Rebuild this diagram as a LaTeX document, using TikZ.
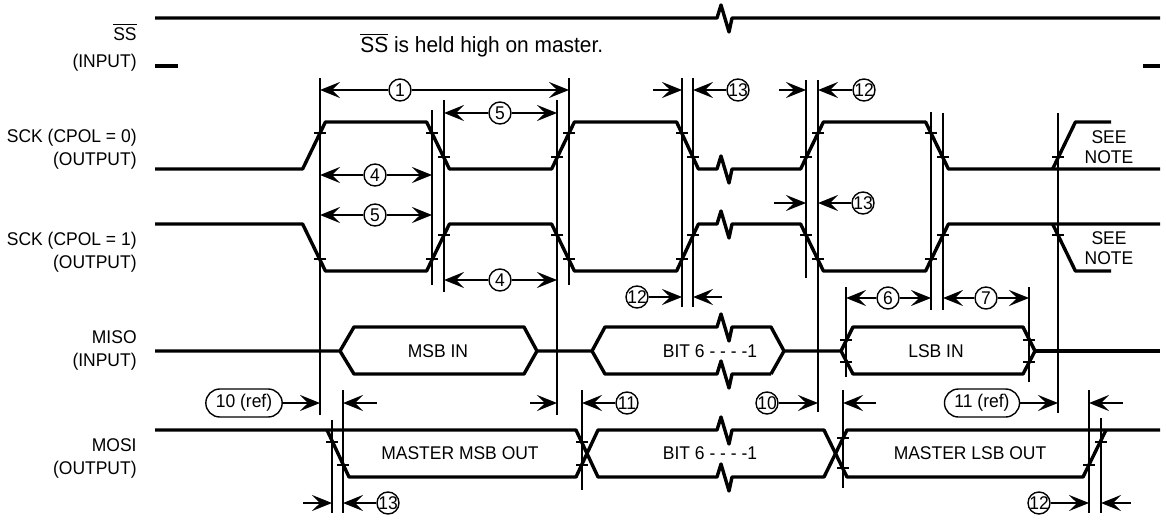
\documentclass[tikz,border=0pt]{standalone}
\usepackage{fontspec}
\setmainfont{Liberation Sans}[FakeStretch=0.95]
\usetikzlibrary{arrows.meta}

\newcommand\ovl[1]{$\overline{\mbox{#1}}$}
\def\brk{-- ++(4,-13) -- ++(8,27) -- ++(3,-14)}

\begin{document}
\begin{tikzpicture}[x=0.5pt,y=-0.5pt,
	font=\fontsize{9.2}{11.5}\selectfont,
	sig/.style={line width=1.7pt,line join=round},
	guide/.style={line width=0.7pt},
	dim/.style={guide,-{Stealth[length=10pt,width=8pt,inset=4pt]}},
	num/.style={draw,guide,rounded corners=5.5pt,minimum width=11pt,minimum height=11pt,inner sep=0.6pt,fill=white},
	refbox/.style={num,rounded corners=7pt,minimum height=14pt,inner xsep=5pt},
	lbl/.style={anchor=east,align=right,inner sep=0pt}]
	\useasboundingbox (0,0) rectangle (1166,519);

	\node[lbl] (ss) at (137,47) {\ovl{SS}\\[2pt](INPUT)};
	\node[lbl] (sck0) at (137,149) {SCK (CPOL = 0)\\(OUTPUT)};
	\node[lbl] (sck1) at (137,252) {SCK (CPOL = 1)\\(OUTPUT)};
	\node[lbl] (miso) at (137,350) {MISO\\(INPUT)};
	\node[lbl] (mosi) at (137,458) {MOSI\\(OUTPUT)};
	\node[anchor=west,inner sep=0pt,font=\fontsize{11}{13}\selectfont] (held) at (360,45) {\ovl{SS} is held high on master.};

	\draw[sig] (155,18) -- (717,18) \brk -- (1160,18);
	\draw[sig] (155,66) -- (178,66);
	\draw[sig] (1143,66) -- (1160,66);

	\draw[sig] (155,169) -- (302.6,169) -- (325.4,122) -- (426.6,122) -- (449.4,169) -- (551.6,169) -- (574.4,122) -- (676.6,122) -- (698.4,169) -- (717,169) \brk -- (800.6,169) -- (823.4,122) -- (925.6,122) -- (948.4,169) -- (1160,169);
	\draw[sig] (1052.6,169) -- (1075.4,122) -- (1111,122);
	\draw[sig] (155,224) -- (302.6,224) -- (325.4,271) -- (426.6,271) -- (449.4,224) -- (551.6,224) -- (574.4,271) -- (676.6,271) -- (698.4,224) -- (717,224) \brk -- (800.6,224) -- (823.4,271) -- (925.6,271) -- (948.4,224) -- (1160,224);
	\draw[sig] (1052.6,224) -- (1075.4,271) -- (1111,271);
	\node[align=center,font=\fontsize{9.2}{10}\selectfont] (note0) at (1109,147) {SEE\\NOTE};
	\node[align=center,font=\fontsize{9.2}{10}\selectfont] (note1) at (1109,248) {SEE\\NOTE};

	\draw[sig] (155,351) -- (340,351) -- (354,327) -- (524,327) -- (537,351) -- (524,374) -- (354,374) -- (340,351);
	\draw[sig] (537,351) -- (592,351) -- (605,327) -- (717,327) \brk -- (771,327) -- (784,351) -- (771,374);
	\draw[sig] (592,351) -- (605,374) -- (717,374) \brk -- (771,374);
	\draw[sig] (784,351) -- (841,351) -- (853,327) -- (1023,327) -- (1035,351) -- (1023,374) -- (853,374) -- (841,351);
	\draw[sig] (1035,351) -- (1160,351);
	\node (msbin) at (438,351) {MSB IN};
	\node (bitin) at (710,351) {BIT 6 - - - -1};
	\node (lsbin) at (936,351) {LSB IN};

	\draw[sig] (155,430) -- (576,430) -- (598,477) -- (717,477) \brk -- (824,477) -- (847,430) -- (1160,430);
	\draw[sig] (327,430) -- (349,477) -- (576,477) -- (598,430) -- (717,430) \brk -- (824,430) -- (847,477) -- (1083,477) -- (1106,430);
	\node (msbout) at (460,453) {MASTER MSB OUT};
	\node (bitout) at (710,453) {BIT 6 - - - -1};
	\node (lsbout) at (970,453) {MASTER LSB OUT};

	\foreach \n/\x/\ya/\yb in {v1/320/78/415, v2/432/110/285, v3/444/100/292, v4/557/100/415, v5/569/78/285, v6/682/78/307, v7/693/78/307, v8/806/80/278, v9/818/80/412, v10/931/112/310, v11/943/113/310, v12/1058/113/413, m1/846/287/377, m2/1029/287/382, o0/332/420/513, o1/343/390/513, o2/582/390/490, o3/843/390/488, o4/1089/390/513, o5/1101/418/513}
	{\coordinate (\n) at (\x,\ya); \draw[guide] (\n) -- (\x,\yb);}

	\foreach \x/\y in {320/133, 432/133, 444/157, 557/157, 569/133, 682/133, 693/157, 806/157, 818/133, 931/133, 943/157, 1058/157, 320/259, 432/259, 444/235, 557/235, 569/259, 682/259, 693/235, 806/235, 818/259, 931/259, 943/235, 1058/235, 846/340, 846/362, 1029/340, 1029/362, 332/442, 343/465, 582/442, 582/465, 843/438, 843/468, 1089/465, 1101/442}
	\draw[guide] (\x-6,\y) -- (\x+6,\y);

	\node[num] (n1) at (400,90) {1};
	\node[num] (n13a) at (738,90) {13};
	\node[num] (n12a) at (864,90) {12};
	\node[num] (n5a) at (500,113) {5};
	\node[num] (n4a) at (375,175) {4};
	\node[num] (n13b) at (863,203) {13};
	\node[num] (n5b) at (375,215) {5};
	\node[num] (n4b) at (500,280) {4};
	\node[num] (n12b) at (637,297) {12};
	\node[num] (n6) at (888,298) {6};
	\node[num] (n7) at (986,298) {7};
	\node[refbox] (n10r) at (244,403) {10 (ref)};
	\node[num] (n11) at (627,403) {11};
	\node[num] (n10) at (767,403) {10};
	\node[refbox] (n11r) at (982,403) {11 (ref)};
	\node[num] (n13c) at (388,503) {13};
	\node[num] (n12c) at (1039,503) {12};

	\foreach \n/\x/\y in {t13a/653/90, t12a/779/90, t13b/774/203, t12b/722/297, t10a/377/403, t11a/530/403, t10b/876/403, t11b/1123/403, t13c/303/503, t12c/1131/503}
	\coordinate (\n) at (\x,\y);

	\draw[dim] (n1) -- (v1 |- n1);
	\draw[dim] (n1) -- (v5 |- n1);
	\draw[dim] (n13a) -- (v7 |- n13a);
	\draw[dim] (t13a) -- (v6 |- t13a);
	\draw[dim] (n12a) -- (v9 |- n12a);
	\draw[dim] (t12a) -- (v8 |- t12a);
	\draw[dim] (n5a) -- (v3 |- n5a);
	\draw[dim] (n5a) -- (v4 |- n5a);
	\draw[dim] (n4a) -- (v1 |- n4a);
	\draw[dim] (n4a) -- (v2 |- n4a);
	\draw[dim] (n13b) -- (v9 |- n13b);
	\draw[dim] (t13b) -- (v8 |- t13b);
	\draw[dim] (n5b) -- (v1 |- n5b);
	\draw[dim] (n5b) -- (v2 |- n5b);
	\draw[dim] (n4b) -- (v3 |- n4b);
	\draw[dim] (n4b) -- (v4 |- n4b);
	\draw[dim] (n12b) -- (v6 |- n12b);
	\draw[dim] (t12b) -- (v7 |- t12b);
	\draw[dim] (n6) -- (m1 |- n6);
	\draw[dim] (n6) -- (v10 |- n6);
	\draw[dim] (n7) -- (v11 |- n7);
	\draw[dim] (n7) -- (m2 |- n7);
	\draw[dim] (n10r) -- (v1 |- n10r);
	\draw[dim] (t10a) -- (o1 |- t10a);
	\draw[dim] (t11a) -- (v4 |- t11a);
	\draw[dim] (n11) -- (o2 |- n11);
	\draw[dim] (n10) -- (v9 |- n10);
	\draw[dim] (t10b) -- (o3 |- t10b);
	\draw[dim] (n11r) -- (v12 |- n11r);
	\draw[dim] (t11b) -- (o4 |- t11b);
	\draw[dim] (t13c) -- (o0 |- t13c);
	\draw[dim] (n13c) -- (o1 |- n13c);
	\draw[dim] (n12c) -- (o4 |- n12c);
	\draw[dim] (t12c) -- (o5 |- t12c);
\end{tikzpicture}
\end{document}
